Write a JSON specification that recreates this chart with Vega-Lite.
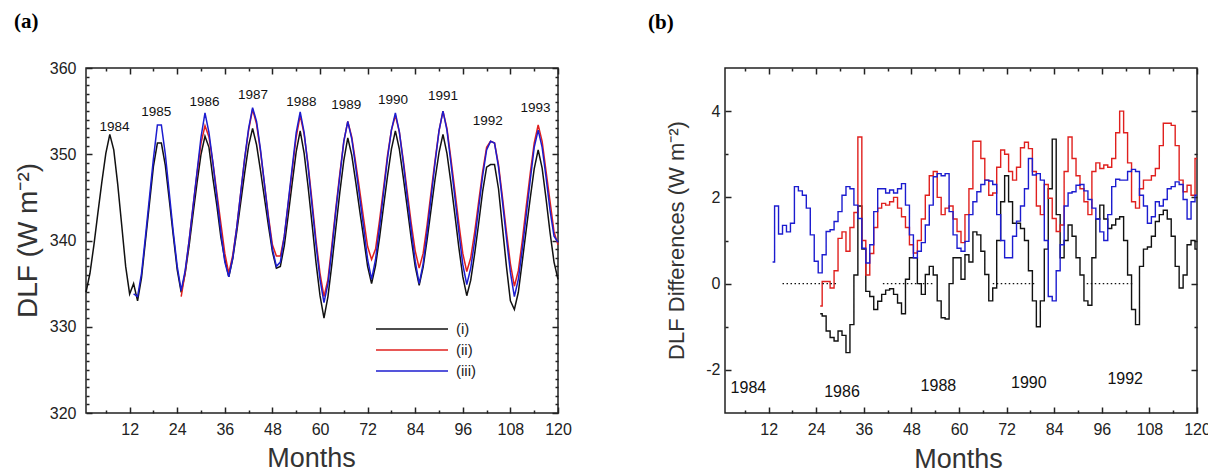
{
  "$schema": "https://vega.github.io/schema/vega-lite/v6.json",
  "padding": {"left": 13, "top": 10, "right": 0, "bottom": 0},
  "background": "white",
  "config": {
    "view": {"stroke": "#222222", "strokeWidth": 1.5},
    "font": "Liberation Sans",
    "axis": {"domain": false, "grid": false, "tickColor": "#222222", "tickWidth": 1.5, "labelFont": "Liberation Sans", "labelColor": "#222222", "labelFontSize": 16, "labelOverlap": false, "labelBound": false, "labelFlush": false, "titleFont": "Liberation Sans", "titleFontWeight": "normal", "titleColor": "#333333"}
  },
  "spacing": 167,
  "bounds": "flush",
  "resolve": {"scale": {"color": "independent"}},
  "hconcat": [
    {
      "width": 472, "height": 345,
      "title": {"text": "(a)", "anchor": "start", "frame": "group", "dx": -72, "offset": 28, "font": "Liberation Serif", "fontSize": 21, "fontWeight": "bold", "color": "#000000"},
      "layer": [
        {
          "data": {"values": [
{"m":1,"i":334.0,"ii":null,"iii":null},{"m":2,"i":336.2,"ii":null,"iii":null},{"m":3,"i":339.5,"ii":null,"iii":null},{"m":4,"i":343.2,"ii":null,"iii":null},{"m":5,"i":346.8,"ii":null,"iii":null},{"m":6,"i":350.1,"ii":null,"iii":null},{"m":7,"i":352.3,"ii":null,"iii":null},{"m":8,"i":350.5,"ii":null,"iii":null},{"m":9,"i":346.5,"ii":null,"iii":null},{"m":10,"i":341.8,"ii":null,"iii":null},{"m":11,"i":337.0,"ii":null,"iii":null},{"m":12,"i":333.8,"ii":null,"iii":null},
{"m":13,"i":335.0,"ii":null,"iii":333.8},{"m":14,"i":333.0,"ii":null,"iii":333.5},{"m":15,"i":335.7,"ii":null,"iii":336.2},{"m":16,"i":340.0,"ii":null,"iii":340.5},{"m":17,"i":344.3,"ii":null,"iii":345.0},{"m":18,"i":348.6,"ii":null,"iii":349.5},{"m":19,"i":351.3,"ii":null,"iii":353.4},{"m":20,"i":351.3,"ii":null,"iii":353.4},{"m":21,"i":348.7,"ii":null,"iii":350.0},{"m":22,"i":344.7,"ii":null,"iii":345.5},{"m":23,"i":340.6,"ii":null,"iii":341.0},{"m":24,"i":336.6,"ii":null,"iii":337.0},
{"m":25,"i":334.0,"ii":333.5,"iii":334.2},{"m":26,"i":336.2,"ii":336.3,"iii":336.5},{"m":27,"i":339.4,"ii":340.0,"iii":340.0},{"m":28,"i":343.1,"ii":344.0,"iii":344.0},{"m":29,"i":346.7,"ii":347.8,"iii":348.0},{"m":30,"i":350.0,"ii":351.3,"iii":352.0},{"m":31,"i":352.1,"ii":353.3,"iii":354.8},{"m":32,"i":350.8,"ii":352.0,"iii":352.5},{"m":33,"i":347.2,"ii":349.0,"iii":349.0},{"m":34,"i":344.0,"ii":345.5,"iii":345.0},{"m":35,"i":340.4,"ii":342.0,"iii":341.0},{"m":36,"i":337.8,"ii":338.5,"iii":337.5},
{"m":37,"i":335.8,"ii":336.2,"iii":335.8},{"m":38,"i":337.9,"ii":338.3,"iii":338.0},{"m":39,"i":341.0,"ii":341.5,"iii":341.5},{"m":40,"i":344.4,"ii":345.5,"iii":345.5},{"m":41,"i":347.8,"ii":349.5,"iii":349.5},{"m":42,"i":351.0,"ii":352.8,"iii":353.0},{"m":43,"i":353.0,"ii":355.2,"iii":355.4},{"m":44,"i":351.1,"ii":353.5,"iii":353.8},{"m":45,"i":348.1,"ii":350.3,"iii":350.5},{"m":46,"i":344.9,"ii":346.5,"iii":346.5},{"m":47,"i":341.7,"ii":342.8,"iii":342.5},{"m":48,"i":338.7,"ii":339.5,"iii":339.0},
{"m":49,"i":336.8,"ii":338.2,"iii":337.0},{"m":50,"i":337.0,"ii":338.2,"iii":337.5},{"m":51,"i":339.4,"ii":340.5,"iii":340.5},{"m":52,"i":343.0,"ii":344.3,"iii":344.5},{"m":53,"i":346.7,"ii":348.2,"iii":348.5},{"m":54,"i":350.3,"ii":352.0,"iii":352.5},{"m":55,"i":352.7,"ii":354.5,"iii":354.9},{"m":56,"i":350.1,"ii":352.3,"iii":352.5},{"m":57,"i":346.2,"ii":348.8,"iii":348.5},{"m":58,"i":341.9,"ii":344.5,"iii":344.0},{"m":59,"i":337.4,"ii":340.0,"iii":339.5},{"m":60,"i":333.6,"ii":336.2,"iii":335.5},
{"m":61,"i":331.0,"ii":333.5,"iii":332.8},{"m":62,"i":333.5,"ii":335.5,"iii":335.0},{"m":63,"i":337.3,"ii":339.5,"iii":339.0},{"m":64,"i":341.5,"ii":343.8,"iii":343.5},{"m":65,"i":345.6,"ii":347.8,"iii":347.5},{"m":66,"i":349.3,"ii":351.5,"iii":351.5},{"m":67,"i":351.9,"ii":353.8,"iii":353.8},{"m":68,"i":349.9,"ii":352.0,"iii":351.8},{"m":69,"i":346.8,"ii":349.0,"iii":348.5},{"m":70,"i":343.5,"ii":345.8,"iii":345.0},{"m":71,"i":340.3,"ii":342.5,"iii":341.5},{"m":72,"i":337.0,"ii":339.3,"iii":337.8},
{"m":73,"i":335.0,"ii":337.8,"iii":335.5},{"m":74,"i":337.1,"ii":339.0,"iii":337.8},{"m":75,"i":340.3,"ii":342.3,"iii":341.5},{"m":76,"i":343.9,"ii":346.0,"iii":345.5},{"m":77,"i":347.4,"ii":349.8,"iii":349.5},{"m":78,"i":350.6,"ii":352.8,"iii":352.8},{"m":79,"i":352.7,"ii":354.5,"iii":354.8},{"m":80,"i":350.6,"ii":352.6,"iii":352.6},{"m":81,"i":347.3,"ii":349.3,"iii":349.0},{"m":82,"i":343.8,"ii":345.6,"iii":345.0},{"m":83,"i":340.2,"ii":342.0,"iii":341.2},{"m":84,"i":337.0,"ii":338.8,"iii":337.6},
{"m":85,"i":334.8,"ii":336.8,"iii":335.0},{"m":86,"i":336.9,"ii":338.5,"iii":337.3},{"m":87,"i":340.1,"ii":341.8,"iii":341.0},{"m":88,"i":343.6,"ii":345.6,"iii":345.0},{"m":89,"i":347.1,"ii":349.3,"iii":349.0},{"m":90,"i":350.2,"ii":352.7,"iii":352.7},{"m":91,"i":352.3,"ii":355.0,"iii":355.0},{"m":92,"i":350.1,"ii":353.0,"iii":352.8},{"m":93,"i":346.7,"ii":349.5,"iii":349.0},{"m":94,"i":343.0,"ii":345.8,"iii":345.0},{"m":95,"i":339.2,"ii":342.0,"iii":341.0},{"m":96,"i":335.8,"ii":338.5,"iii":337.2},
{"m":97,"i":333.6,"ii":336.4,"iii":334.9},{"m":98,"i":335.4,"ii":338.0,"iii":336.8},{"m":99,"i":338.5,"ii":341.0,"iii":340.0},{"m":100,"i":342.0,"ii":344.5,"iii":343.8},{"m":101,"i":345.7,"ii":348.0,"iii":347.5},{"m":102,"i":348.5,"ii":350.8,"iii":350.5},{"m":103,"i":348.8,"ii":351.5,"iii":351.5},{"m":104,"i":348.8,"ii":351.3,"iii":351.3},{"m":105,"i":346.0,"ii":348.8,"iii":348.5},{"m":106,"i":341.5,"ii":345.0,"iii":344.5},{"m":107,"i":337.0,"ii":341.0,"iii":340.3},{"m":108,"i":333.0,"ii":337.3,"iii":336.3},
{"m":109,"i":332.0,"ii":334.7,"iii":333.5},{"m":110,"i":334.0,"ii":336.5,"iii":335.5},{"m":111,"i":337.6,"ii":340.0,"iii":339.0},{"m":112,"i":341.3,"ii":344.0,"iii":343.0},{"m":113,"i":344.9,"ii":347.8,"iii":347.0},{"m":114,"i":348.3,"ii":351.3,"iii":350.8},{"m":115,"i":350.5,"ii":353.4,"iii":352.8},{"m":116,"i":348.4,"ii":351.5,"iii":350.8},{"m":117,"i":344.8,"ii":348.0,"iii":347.3},{"m":118,"i":340.9,"ii":344.5,"iii":343.5},{"m":119,"i":337.5,"ii":341.0,"iii":340.5},{"m":120,"i":335.5,"ii":339.5,"iii":339.8}
          ]},
          "transform": [{"fold": ["i", "ii", "iii"], "as": ["series", "dlf"]}],
          "mark": {"type": "line", "interpolate": "linear", "strokeWidth": 1.5},
          "encoding": {
            "x": {"field": "m", "type": "quantitative", "scale": {"domain": [1, 120], "nice": false, "zero": false},
              "axis": {"orient": "bottom", "values": [6,12,18,24,30,36,42,48,54,60,66,72,78,84,90,96,102,108,114,120], "tickSize": {"condition": {"test": "datum.value % 12 === 0", "value": -6}, "value": -3}, "labelExpr": "datum.value % 12 === 0 ? '' + datum.value : ''", "labelPadding": 14, "title": "Months", "titleFontSize": 27, "titleBaseline": "alphabetic", "titleY": 53, "titleX": 225, "titleAlign": "center"}},
            "y": {"field": "dlf", "type": "quantitative", "scale": {"domain": [320, 360], "nice": false, "zero": false},
              "axis": {"orient": "left", "values": [320,321,322,323,324,325,326,327,328,329,330,331,332,333,334,335,336,337,338,339,340,341,342,343,344,345,346,347,348,349,350,351,352,353,354,355,356,357,358,359,360], "tickSize": {"condition": {"test": "datum.value % 10 === 0", "value": -6}, "value": -3}, "labelExpr": "datum.value % 10 === 0 ? '' + datum.value : ''", "labelPadding": 16, "title": "DLF (W m⁻²)", "titleFontSize": 28, "titleX": -58, "titleY": 172, "titleBaseline": "middle", "titleAlign": "center", "titleAngle": -90}},
            "color": {"field": "series", "type": "nominal", "scale": {"domain": ["i", "ii", "iii"], "range": ["#111111", "#e0201e", "#1c1ccf"]},
              "legend": {"orient": "none", "legendX": 316, "legendY": 251, "title": null, "padding": 0, "symbolType": "M-4,0H4", "symbolSize": 324, "symbolStrokeWidth": 1.5, "labelExpr": "'(' + datum.label + ')'", "labelFont": "Liberation Sans", "labelFontSize": 15, "labelColor": "#222222", "labelOffset": 34, "rowPadding": 3}}
          }
        },
        {
          "data": {"values": [
            {"m": 8.2, "v": 353.2, "t": "1984"}, {"m": 18.7, "v": 354.9, "t": "1985"}, {"m": 30.9, "v": 356.1, "t": "1986"}, {"m": 43.1, "v": 356.9, "t": "1987"}, {"m": 55.3, "v": 356.1, "t": "1988"},
            {"m": 66.6, "v": 355.7, "t": "1989"}, {"m": 78.4, "v": 356.3, "t": "1990"}, {"m": 91.0, "v": 356.7, "t": "1991"}, {"m": 102.3, "v": 353.9, "t": "1992"}, {"m": 114.3, "v": 355.4, "t": "1993"}
          ]},
          "mark": {"type": "text", "font": "Liberation Sans", "fontSize": 13.5, "color": "#111111", "align": "center", "baseline": "middle"},
          "encoding": {
            "x": {"field": "m", "type": "quantitative", "scale": {"domain": [1, 120], "nice": false, "zero": false},
              "axis": {"orient": "top", "values": [6,12,18,24,30,36,42,48,54,60,66,72,78,84,90,96,102,108,114,120], "tickSize": {"condition": {"test": "datum.value % 12 === 0", "value": -6}, "value": -3}, "labels": false, "title": null}},
            "y": {"field": "v", "type": "quantitative", "scale": {"domain": [320, 360], "nice": false, "zero": false},
              "axis": {"orient": "right", "values": [320,321,322,323,324,325,326,327,328,329,330,331,332,333,334,335,336,337,338,339,340,341,342,343,344,345,346,347,348,349,350,351,352,353,354,355,356,357,358,359,360], "tickSize": {"condition": {"test": "datum.value % 10 === 0", "value": -6}, "value": -3}, "labels": false, "title": null}},
            "text": {"field": "t", "type": "nominal"}
          }
        }
      ],
      "resolve": {"axis": {"x": "independent", "y": "independent"}}
    },
    {
      "width": 472, "height": 345,
      "title": {"text": "(b)", "anchor": "start", "frame": "group", "dx": -77, "offset": 34, "font": "Liberation Serif", "fontSize": 21, "fontWeight": "bold", "color": "#000000"},
      "layer": [
        {
          "data": {"values": [
{"m":13,"i":null,"ii":null,"iii":0.5},{"m":14,"i":null,"ii":null,"iii":1.8},{"m":15,"i":null,"ii":null,"iii":1.15},{"m":16,"i":null,"ii":null,"iii":1.35},{"m":17,"i":null,"ii":null,"iii":1.2},{"m":18,"i":null,"ii":null,"iii":1.4},{"m":19,"i":null,"ii":null,"iii":2.25},{"m":20,"i":null,"ii":null,"iii":2.15},{"m":21,"i":null,"ii":null,"iii":2.05},{"m":22,"i":null,"ii":null,"iii":1.75},{"m":23,"i":null,"ii":null,"iii":1.13},{"m":24,"i":null,"ii":null,"iii":0.52},
{"m":25,"i":-0.7,"ii":-0.52,"iii":0.25},{"m":26,"i":-0.75,"ii":0.05,"iii":0.67},{"m":27,"i":-1.1,"ii":0.05,"iii":1.21},{"m":28,"i":-1.25,"ii":-0.1,"iii":1.25},{"m":29,"i":-1.33,"ii":0.3,"iii":1.44},{"m":30,"i":-1.1,"ii":1.05,"iii":1.67},{"m":31,"i":-1.2,"ii":1.2,"iii":2.05},{"m":32,"i":-1.6,"ii":0.75,"iii":2.25},{"m":33,"i":-0.95,"ii":1.3,"iii":2.2},{"m":34,"i":0.2,"ii":1.65,"iii":1.82},{"m":35,"i":1.8,"ii":3.4,"iii":1.51},{"m":36,"i":0.8,"ii":1.0,"iii":0.82},
{"m":37,"i":-0.18,"ii":0.2,"iii":0.48},{"m":38,"i":-0.3,"ii":0.7,"iii":0.9},{"m":39,"i":-0.6,"ii":1.3,"iii":1.67},{"m":40,"i":-0.41,"ii":1.75,"iii":2.2},{"m":41,"i":-0.25,"ii":1.86,"iii":2.2},{"m":42,"i":-0.15,"ii":1.82,"iii":2.1},{"m":43,"i":-0.12,"ii":1.9,"iii":2.17},{"m":44,"i":-0.25,"ii":2.0,"iii":2.1},{"m":45,"i":-0.45,"ii":1.75,"iii":2.2},{"m":46,"i":-0.7,"ii":1.55,"iii":2.32},{"m":47,"i":0.1,"ii":1.3,"iii":1.82},{"m":48,"i":0.6,"ii":0.9,"iii":1.13},
{"m":49,"i":0.6,"ii":0.71,"iii":0.6},{"m":50,"i":0.0,"ii":1.0,"iii":0.75},{"m":51,"i":-0.25,"ii":1.5,"iii":0.95},{"m":52,"i":0.21,"ii":2.05,"iii":1.36},{"m":53,"i":0.4,"ii":2.5,"iii":1.82},{"m":54,"i":0.2,"ii":2.6,"iii":2.48},{"m":55,"i":-0.4,"ii":2.0,"iii":2.55},{"m":56,"i":-0.79,"ii":1.6,"iii":2.5},{"m":57,"i":-0.82,"ii":1.75,"iii":2.55},{"m":58,"i":0.0,"ii":1.8,"iii":1.67},{"m":59,"i":0.6,"ii":1.5,"iii":1.13},{"m":60,"i":0.6,"ii":1.21,"iii":0.82},
{"m":61,"i":0.1,"ii":0.95,"iii":0.75},{"m":62,"i":0.67,"ii":1.6,"iii":0.98},{"m":63,"i":0.5,"ii":2.2,"iii":1.6},{"m":64,"i":1.2,"ii":3.3,"iii":1.9},{"m":65,"i":1.13,"ii":3.3,"iii":2.13},{"m":66,"i":0.75,"ii":2.9,"iii":2.3},{"m":67,"i":0.21,"ii":2.4,"iii":2.4},{"m":68,"i":-0.4,"ii":2.05,"iii":2.38},{"m":69,"i":-0.1,"ii":2.1,"iii":2.3},{"m":70,"i":1.0,"ii":2.7,"iii":1.6},{"m":71,"i":1.9,"ii":3.1,"iii":1.0},{"m":72,"i":2.5,"ii":3.0,"iii":0.6},
{"m":73,"i":1.9,"ii":2.6,"iii":0.6},{"m":74,"i":1.4,"ii":2.4,"iii":1.1},{"m":75,"i":1.4,"ii":2.7,"iii":1.45},{"m":76,"i":1.28,"ii":3.15,"iii":1.8},{"m":77,"i":1.0,"ii":3.28,"iii":2.2},{"m":78,"i":0.3,"ii":3.13,"iii":2.9},{"m":79,"i":-0.4,"ii":2.6,"iii":2.52},{"m":80,"i":-1.0,"ii":1.8,"iii":2.55},{"m":81,"i":-0.4,"ii":1.6,"iii":2.4},{"m":82,"i":0.8,"ii":2.3,"iii":1.0},{"m":83,"i":2.2,"ii":1.98,"iii":-0.3},{"m":84,"i":3.35,"ii":1.51,"iii":-0.4},
{"m":85,"i":1.6,"ii":1.21,"iii":0.3},{"m":86,"i":0.6,"ii":1.36,"iii":0.9},{"m":87,"i":1.0,"ii":2.6,"iii":1.8},{"m":88,"i":1.36,"ii":3.4,"iii":2.1},{"m":89,"i":1.1,"ii":2.9,"iii":2.13},{"m":90,"i":0.6,"ii":2.5,"iii":2.28},{"m":91,"i":0.2,"ii":2.2,"iii":2.3},{"m":92,"i":-0.4,"ii":1.9,"iii":2.15},{"m":93,"i":-0.5,"ii":1.6,"iii":1.95},{"m":94,"i":0.6,"ii":2.6,"iii":1.75},{"m":95,"i":1.5,"ii":2.8,"iii":1.5},{"m":96,"i":1.82,"ii":2.67,"iii":1.2},
{"m":97,"i":1.5,"ii":2.75,"iii":1.0},{"m":98,"i":1.28,"ii":2.7,"iii":1.6},{"m":99,"i":1.36,"ii":2.9,"iii":2.25},{"m":100,"i":1.5,"ii":3.5,"iii":2.42},{"m":101,"i":1.55,"ii":4.0,"iii":2.4},{"m":102,"i":1.0,"ii":3.5,"iii":2.4},{"m":103,"i":0.2,"ii":2.8,"iii":2.6},{"m":104,"i":-0.6,"ii":1.9,"iii":2.65},{"m":105,"i":-0.95,"ii":1.75,"iii":2.6},{"m":106,"i":0.4,"ii":2.2,"iii":2.05},{"m":107,"i":0.8,"ii":2.4,"iii":1.8},{"m":108,"i":0.85,"ii":2.4,"iii":1.4},
{"m":109,"i":1.1,"ii":2.5,"iii":1.55},{"m":110,"i":1.44,"ii":2.67,"iii":1.9},{"m":111,"i":1.6,"ii":3.2,"iii":1.8},{"m":112,"i":1.7,"ii":3.72,"iii":1.95},{"m":113,"i":1.5,"ii":3.72,"iii":2.2},{"m":114,"i":1.1,"ii":3.67,"iii":2.25},{"m":115,"i":0.4,"ii":3.2,"iii":2.36},{"m":116,"i":-0.1,"ii":2.4,"iii":2.3},{"m":117,"i":0.2,"ii":2.13,"iii":1.95},{"m":118,"i":0.9,"ii":2.28,"iii":1.5},{"m":119,"i":1.0,"ii":2.05,"iii":1.9},{"m":120,"i":0.8,"ii":2.9,"iii":2.05}
          ]},
          "transform": [{"fold": ["i", "ii", "iii"], "as": ["series", "diff"]}],
          "mark": {"type": "line", "interpolate": "step", "strokeWidth": 1.4},
          "encoding": {
            "x": {"field": "m", "type": "quantitative", "scale": {"domain": [1, 120], "nice": false, "zero": false},
              "axis": {"orient": "bottom", "values": [6,12,18,24,30,36,42,48,54,60,66,72,78,84,90,96,102,108,114,120], "tickSize": {"condition": {"test": "datum.value % 12 === 0", "value": -6}, "value": -3}, "labelExpr": "datum.value % 12 === 0 ? '' + datum.value : ''", "labelPadding": 14, "title": "Months", "titleFontSize": 27, "titleBaseline": "alphabetic", "titleY": 54, "titleX": 233, "titleAlign": "center"}},
            "y": {"field": "diff", "type": "quantitative", "scale": {"domain": [-3, 5], "nice": false, "zero": false},
              "axis": {"orient": "left", "values": [-2,-1,0,1,2,3,4], "tickSize": {"condition": {"test": "datum.value % 2 === 0", "value": -6}, "value": -3}, "labelExpr": "datum.value % 2 === 0 ? '' + datum.value : ''", "labelPadding": 11, "title": "DLF Differences (W m⁻²)", "titleFontSize": 22, "titleX": -49, "titleY": 172, "titleBaseline": "middle", "titleAlign": "center", "titleAngle": -90}},
            "color": {"field": "series", "type": "nominal", "scale": {"domain": ["i", "ii", "iii"], "range": ["#111111", "#e0201e", "#1c1ccf"]}, "legend": null}
          }
        },
        {
          "data": {"values": [
            {"m": 6.9, "v": -2.42, "t": "1984"}, {"m": 30.5, "v": -2.52, "t": "1986"}, {"m": 54.8, "v": -2.37, "t": "1988"}, {"m": 77.6, "v": -2.3, "t": "1990"}, {"m": 101.9, "v": -2.21, "t": "1992"}
          ]},
          "mark": {"type": "text", "font": "Liberation Sans", "fontSize": 16, "color": "#111111", "align": "center", "baseline": "middle"},
          "encoding": {
            "x": {"field": "m", "type": "quantitative", "scale": {"domain": [1, 120], "nice": false, "zero": false},
              "axis": {"orient": "top", "values": [6,12,18,24,30,36,42,48,54,60,66,72,78,84,90,96,102,108,114,120], "tickSize": {"condition": {"test": "datum.value % 12 === 0", "value": -6}, "value": -3}, "labels": false, "title": null}},
            "y": {"field": "v", "type": "quantitative", "scale": {"domain": [-3, 5], "nice": false, "zero": false},
              "axis": {"orient": "right", "values": [-2,-1,0,1,2,3,4], "tickSize": {"condition": {"test": "datum.value % 2 === 0", "value": -6}, "value": -3}, "labels": false, "title": null}},
            "text": {"field": "t", "type": "nominal"}
          }
        },
        {
          "data": {"values": [
            {"a": 15.5, "b": 29.5}, {"a": 40.8, "b": 53.5}, {"a": 68.5, "b": 79.3}, {"a": 92.2, "b": 104.2}
          ]},
          "mark": {"type": "rule", "color": "#111111", "strokeWidth": 1.3, "strokeDash": [1.5, 2.5]},
          "encoding": {
            "x": {"field": "a", "type": "quantitative", "scale": {"domain": [1, 120], "nice": false, "zero": false}, "axis": null},
            "x2": {"field": "b"},
            "y": {"datum": 0, "type": "quantitative", "scale": {"domain": [-3, 5], "nice": false, "zero": false}, "axis": null}
          }
        }
      ],
      "resolve": {"axis": {"x": "independent", "y": "independent"}}
    }
  ]
}
